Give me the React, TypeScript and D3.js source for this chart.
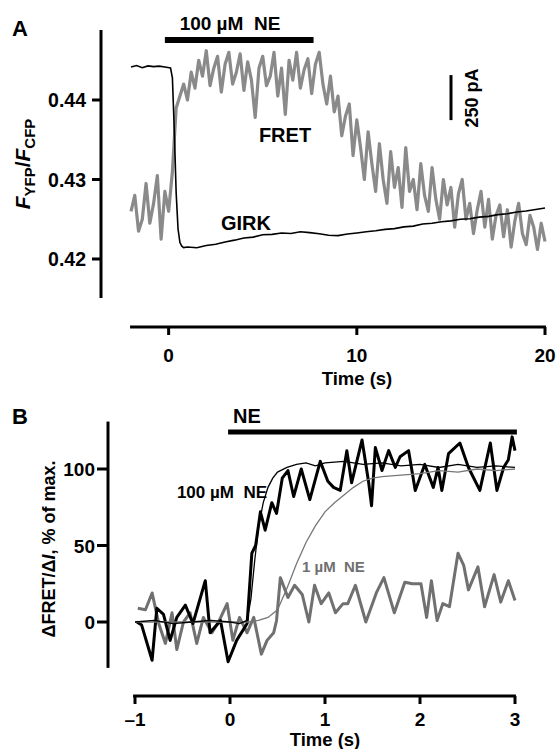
import * as d3 from 'd3';

// ---------- Panel A data ----------
// FRET ratio, sampled every 0.2 s from -2 s to 20 s
const fretA = [
  0.4260, 0.4280, 0.4235, 0.4250, 0.4295,
  0.4245, 0.4270, 0.4305, 0.4225, 0.4285,
  0.4260, 0.4310, 0.4390, 0.4405, 0.4420,
  0.4400, 0.4435, 0.4415, 0.4450, 0.4430,
  0.4462, 0.4418, 0.4440, 0.4455, 0.4410,
  0.4445, 0.4460, 0.4420, 0.4435, 0.4458,
  0.4412, 0.4448, 0.4425, 0.4378, 0.4440,
  0.4455, 0.4418, 0.4430, 0.4460, 0.4405,
  0.4440, 0.4382, 0.4450, 0.4425, 0.4460,
  0.4415, 0.4438, 0.4452, 0.4408, 0.4445,
  0.4460, 0.4420, 0.4395, 0.4430, 0.4385,
  0.4405, 0.4355, 0.4380, 0.4395, 0.4330,
  0.4375, 0.4340, 0.4300, 0.4360, 0.4320,
  0.4285, 0.4345, 0.4300, 0.4270, 0.4335,
  0.4290, 0.4315, 0.4265, 0.4340, 0.4285,
  0.4300, 0.4262, 0.4320, 0.4280, 0.4260,
  0.4315, 0.4275, 0.4250, 0.4300, 0.4268,
  0.4290, 0.4240, 0.4282, 0.4300, 0.4250,
  0.4270, 0.4232, 0.4262, 0.4285, 0.4240,
  0.4275, 0.4225, 0.4255, 0.4268, 0.4228,
  0.4262, 0.4215, 0.4248, 0.4270, 0.4232,
  0.4218, 0.4255, 0.4240, 0.4212, 0.4245,
  0.4222,
];
const fretATimes = fretA.map((_, i) => -2 + i * 0.2);

// GIRK current (pA)
const girkTimes = [
  -2, -1.7, -1.4, -1.1, -0.8, -0.5, -0.2, 0.1, 0.2, 0.3, 0.4, 0.5, 0.6, 0.7, 0.8,
  1, 1.5, 2, 2.5, 3, 3.5, 4, 4.5, 5, 5.5, 6, 6.5, 7, 7.5, 8, 8.5, 9, 9.5, 10, 10.5, 11, 11.5, 12,
  12.5, 13, 13.5, 14, 14.5, 15, 15.5, 16, 16.5, 17, 17.5, 18, 18.5, 19, 19.5, 20,
];
const girkA = [
  0, 8, -4, 6, 2, 5, 0, -5, -60, -350, -700, -900, -975, -995, -1003,
  -1000, -1004, -992, -985, -972, -962, -950, -945, -932, -930, -922, -925, -915, -920, -926, -935, -937, -928, -922, -915, -910, -902, -898,
  -888, -884, -872, -868, -860, -855, -846, -843, -834, -830, -820, -815, -806, -800, -792, -783,
];

const neBarA = [-0.2, 7.7];
const xTicksA = [0, 10, 20];
const yTicksA = [0.42, 0.43, 0.44];

// ---------- Panel B data ----------
const fret100Times = [
  -0.98, -0.93, -0.82, -0.77, -0.7, -0.63, -0.56, -0.47, -0.39, -0.26, -0.21, -0.1, -0.02, 0.07,
  0.18, 0.23, 0.27, 0.32, 0.37, 0.44, 0.49, 0.55, 0.61, 0.67, 0.75, 0.84, 0.95, 1.03, 1.09, 1.16,
  1.23, 1.28, 1.39, 1.46, 1.49, 1.53, 1.6, 1.67, 1.74, 1.79, 1.88, 1.95, 2.05, 2.14, 2.19, 2.23,
  2.3, 2.42, 2.51, 2.63, 2.74, 2.81, 2.88, 2.93, 2.97, 3.0,
];
const fret100 = [
  0, -2, -25, 9, 5, -12, 3, 11, -1, 27, -7, 1, -26, -12,
  -1, 45, 50, 72, 60, 78, 71, 94, 99, 82, 100, 80, 105, 92, 88, 86,
  112, 91, 119, 91, 76, 114, 99, 112, 101, 108, 112, 86, 103, 88, 101, 86,
  110, 117, 101, 86, 117, 86, 101, 106, 121, 112,
];

const fret1Times = [
  -0.97, -0.89, -0.82, -0.75, -0.68, -0.61, -0.56, -0.49, -0.42, -0.35, -0.28, -0.19, -0.12, -0.03,
  0.03, 0.1, 0.18, 0.25, 0.33, 0.39, 0.46, 0.49, 0.53, 0.61, 0.68, 0.76, 0.83, 0.89, 0.96, 1.04,
  1.11, 1.19, 1.24, 1.32, 1.43, 1.54, 1.62, 1.73, 1.84, 1.92, 2.01, 2.07, 2.12, 2.18, 2.24, 2.31,
  2.4, 2.46, 2.51, 2.61, 2.68, 2.78, 2.85, 2.93, 3.0,
];
const fret1 = [
  9, 8, 19, -1, -14, 6, -18, 0, 6, -14, 3, -7, 0, 12,
  -12, 3, -7, 3, -21, -12, -7, 1, 29, 16, 24, 18, 0, 24, 12, 19,
  6, 12, 12, 24, 0, 19, 29, 6, 26, 25, 25, 3, 27, 1, 12, 10,
  45, 37, 21, 36, 10, 31, 13, 27, 14,
];

const girk100Times = [
  -1, -0.8, -0.6, -0.4, -0.2, 0, 0.1, 0.18, 0.22, 0.26, 0.3, 0.35, 0.4, 0.45, 0.5, 0.6, 0.7,
  0.8, 0.9, 1, 1.2, 1.4, 1.6, 1.8, 2, 2.2, 2.4, 2.6, 2.8, 3,
];
const girk100 = [
  0, 1, -1, 0, 1, 0, -1, 1, 15, 40, 62, 78, 88, 94, 98, 101, 103,
  104, 102, 104, 105, 103, 104, 102, 103, 101, 103, 101, 102, 101,
];

const girk1Times = [
  -1, -0.5, 0, 0.2, 0.3, 0.4, 0.5, 0.6, 0.7, 0.8, 0.9, 1, 1.1, 1.2, 1.3, 1.4, 1.5, 1.6, 1.8,
  2, 2.2, 2.4, 2.6, 2.8, 3,
];
const girk1 = [
  0, 0, 0, 0, 1, 3, 8, 22, 38, 52, 63, 72, 78, 83, 88, 92, 94, 95, 96,
  97, 99, 98, 100, 99, 100,
];

const neBarB = [-0.02, 3.02];
const xTicksB = [-1, 0, 1, 2, 3];
const yTicksB = [0, 50, 100];

const FONT = '"Liberation Sans", Arial, Helvetica, sans-serif';

const App = () => {
  // panel A scales
  const xA = d3.scaleLinear().domain([-2, 20]).range([131, 545]);
  const yA = d3.scaleLinear().domain([0.42, 0.44]).range([259, 100]);
  const yG = d3.scaleLinear().domain([0, -1000]).range([67, 247]);

  // panel B scales
  const xB = d3.scaleLinear().domain([-1, 3]).range([135, 515]);
  const yB = d3.scaleLinear().domain([0, 100]).range([622, 469]);

  const lineFretA = d3
    .line<number>()
    .x((_, i) => xA(fretATimes[i]))
    .y((d) => yA(d));
  const lineGirkA = d3
    .line<number>()
    .x((_, i) => xA(girkTimes[i]))
    .y((d) => yG(d));

  const lineB = (times: number[]) =>
    d3
      .line<number>()
      .x((_, i) => xB(times[i]))
      .y((d) => yB(d));

  const axisY = 327;
  const axisYB = 696;

  return (
    <svg
      width={557}
      height={749}
      style={{ position: 'absolute', left: 0, top: 0, background: '#fff' }}
      fontFamily={FONT}
      fontWeight="bold"
    >
      {/* ================= PANEL A ================= */}
      <text x={12} y={36} fontSize={22}>A</text>

      {/* NE bar */}
      <line x1={xA(neBarA[0])} x2={xA(neBarA[1])} y1={40} y2={40} stroke="#000" strokeWidth={6} />
      <text x={230} y={30} fontSize={19} textAnchor="middle" style={{ whiteSpace: 'pre' }}>
        100 µM  NE
      </text>

      {/* y axis */}
      <line x1={101} x2={101} y1={yA(0.4488)} y2={yA(0.4151)} stroke="#000" strokeWidth={3} />
      {yTicksA.map((t) => (
        <g key={t}>
          <line x1={92} x2={101} y1={yA(t)} y2={yA(t)} stroke="#000" strokeWidth={3} />
          <text x={86} y={yA(t) + 7} fontSize={19.5} textAnchor="end">
            {d3.format('.2f')(t)}
          </text>
        </g>
      ))}
      <text transform="translate(30,164) rotate(-90)" fontSize={21} textAnchor="middle">
        <tspan fontStyle="italic">F</tspan>
        <tspan fontSize={15} dy={5}>YFP</tspan>
        <tspan dy={-5}>/</tspan>
        <tspan fontStyle="italic">F</tspan>
        <tspan fontSize={15} dy={5}>CFP</tspan>
      </text>

      {/* x axis */}
      <line x1={xA(-2.05)} x2={xA(20.05)} y1={axisY} y2={axisY} stroke="#000" strokeWidth={3} />
      {xTicksA.map((t) => (
        <g key={t}>
          <line x1={xA(t)} x2={xA(t)} y1={axisY} y2={axisY + 8} stroke="#000" strokeWidth={3} />
          <text x={xA(t)} y={362} fontSize={19} textAnchor="middle">{t}</text>
        </g>
      ))}
      <text x={357} y={385} fontSize={18.5} textAnchor="middle">Time (s)</text>

      {/* traces */}
      <path d={lineFretA(fretA) ?? ''} fill="none" stroke="#8a8a8a" strokeWidth={3.2} strokeLinejoin="round" />
      <path d={lineGirkA(girkA) ?? ''} fill="none" stroke="#000" strokeWidth={1.6} />

      <text x={285} y={142} fontSize={20} textAnchor="middle">FRET</text>
      <text x={246} y={230} fontSize={20} textAnchor="middle">GIRK</text>

      {/* scale bar 250 pA */}
      <line x1={451} x2={451} y1={yG(-45)} y2={yG(-295)} stroke="#000" strokeWidth={3} />
      <text transform="translate(478,98) rotate(-90)" fontSize={18} textAnchor="middle">250 pA</text>

      {/* ================= PANEL B ================= */}
      <text x={12} y={424} fontSize={22}>B</text>

      <line x1={xB(neBarB[0])} x2={xB(neBarB[1])} y1={432} y2={432} stroke="#000" strokeWidth={5} />
      <text x={233} y={423} fontSize={20}>NE</text>

      {/* y axis */}
      <line x1={108} x2={108} y1={yB(131)} y2={yB(-30)} stroke="#000" strokeWidth={3} />
      {yTicksB.map((t) => (
        <g key={t}>
          <line x1={97} x2={108} y1={yB(t)} y2={yB(t)} stroke="#000" strokeWidth={3} />
          <text x={95} y={yB(t) + 7} fontSize={19} textAnchor="end">{t}</text>
        </g>
      ))}
      <text transform="translate(55,549) rotate(-90)" fontSize={18} textAnchor="middle">
        ΔFRET/Δ<tspan fontStyle="italic">I</tspan>, % of max.
      </text>

      {/* x axis */}
      <line x1={xB(-1.02)} x2={xB(3.01)} y1={axisYB} y2={axisYB} stroke="#000" strokeWidth={3} />
      {xTicksB.map((t) => (
        <g key={t}>
          <line x1={xB(t)} x2={xB(t)} y1={axisYB} y2={axisYB + 8} stroke="#000" strokeWidth={3} />
          <text x={xB(t)} y={726} fontSize={19} textAnchor="middle">
            {t < 0 ? `–${Math.abs(t)}` : t}
          </text>
        </g>
      ))}
      <text x={325} y={746} fontSize={18.5} textAnchor="middle">Time (s)</text>

      {/* traces */}
      <path d={lineB(fret1Times)(fret1) ?? ''} fill="none" stroke="#707070" strokeWidth={3} strokeLinejoin="round" />
      <path d={lineB(fret100Times)(fret100) ?? ''} fill="none" stroke="#000" strokeWidth={3} strokeLinejoin="round" />
      <path d={lineB(girk1Times)(girk1) ?? ''} fill="none" stroke="#777" strokeWidth={1.3} />
      <path d={lineB(girk100Times)(girk100) ?? ''} fill="none" stroke="#000" strokeWidth={1.3} />

      <text x={267} y={498} fontSize={17} textAnchor="end" style={{ whiteSpace: 'pre' }}>
        100 µM  NE
      </text>
      <text x={302} y={572} fontSize={15} fill="#707070" style={{ whiteSpace: 'pre' }}>
        1 µM  NE
      </text>
    </svg>
  );
};

export default App;
